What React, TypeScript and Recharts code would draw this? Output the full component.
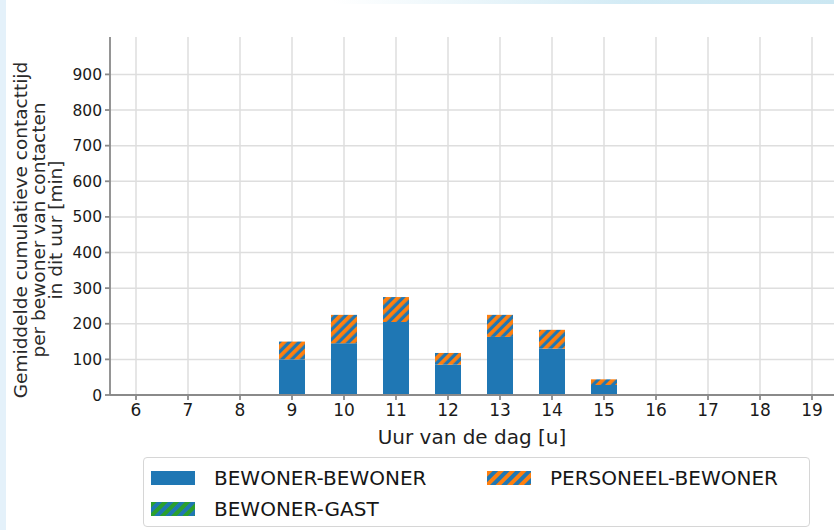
import React from "react";
import { BarChart, Bar, XAxis, YAxis, CartesianGrid } from "recharts";

// Hour of day on the x axis
const hours = [6, 7, 8, 9, 10, 11, 12, 13, 14, 15, 16, 17, 18, 19];
// Average cumulative contact time per resident [min], per contact type
const bewonerBewoner = [0, 0, 0, 100, 145, 205, 85, 163, 130, 28, 0, 0, 0, 0];
const personeelBewoner = [0, 0, 0, 50, 80, 70, 33, 62, 53, 16, 0, 0, 0, 0];
const bewonerGast = [0, 0, 0, 0, 0, 0, 0, 0, 0, 0, 0, 0, 0, 0];
const yTicks = [0, 100, 200, 300, 400, 500, 600, 700, 800, 900];

const seriesNames = ["BEWONER-BEWONER", "BEWONER-GAST", "PERSONEEL-BEWONER"];

const data = hours.map((h, i) => ({
  hour: h,
  bb: bewonerBewoner[i],
  bg: bewonerGast[i],
  pb: personeelBewoner[i],
}));

const BLUE = "#1f77b4";
const ORANGE = "#ff7f0e";
const GREEN = "#2ca02c";
const FONT = "'DejaVu Sans', sans-serif";

const YLabel = (props: any) => {
  const lines = [
    "Gemiddelde cumulatieve contacttijd",
    "per bewoner van contacten",
    "in dit uur [min]",
  ];
  const cy = 230;
  return (
    <g>
      {lines.map((t, i) => {
        const x = 27 + i * 17.5;
        return (
          <text
            key={i}
            x={x}
            y={cy}
            transform={`rotate(-90 ${x} ${cy})`}
            textAnchor="middle"
            fontSize={18.5}
            fontFamily={FONT}
            fill="#2a2a2a"
          >
            {t}
          </text>
        );
      })}
    </g>
  );
};

const XLabel = (props: any) => (
  <text
    x={472}
    y={444}
    textAnchor="middle"
    fontSize={20}
    fontFamily={FONT}
    fill="#1e1e1e"
  >
    Uur van de dag [u]
  </text>
);

const Swatch = ({ kind }: { kind: "solid" | "orange" | "green" }) => (
  <svg width={44} height={14} style={{ display: "block" }}>
    <defs>
      <pattern id={`lg-${kind}`} patternUnits="userSpaceOnUse" width={8} height={8} patternTransform="rotate(45)">
        <rect width={8} height={8} fill={BLUE} />
        <rect width={4} height={8} fill={kind === "green" ? GREEN : ORANGE} />
      </pattern>
    </defs>
    <rect width={44} height={14} fill={kind === "solid" ? BLUE : `url(#lg-${kind})`} />
  </svg>
);

const LegendItem = ({ kind, label, left, top }: any) => (
  <div style={{ position: "absolute", left, top, display: "flex", alignItems: "center" }}>
    <Swatch kind={kind} />
    <span style={{ marginLeft: 19, fontFamily: FONT, fontSize: 20, color: "#161616", lineHeight: "20px" }}>
      {label}
    </span>
  </div>
);

export default function App() {
  return (
    <div style={{ position: "absolute", left: 0, top: 0, width: 834, height: 530, overflow: "hidden", background: "#fff" }}>
      <div style={{ position: "absolute", left: 0, top: 0, width: 834, height: 4, background: "linear-gradient(to right, #ffffff 0%, #ffffff 40%, #d3ebf5 75%, #cbe7f2 100%)" }} />
      <div style={{ position: "absolute", left: 0, top: 0, width: 6, height: 530, background: "#e4f1fa" }} />
      <div style={{ position: "absolute", left: 0, top: 0 }}>
        <BarChart
          width={900}
          height={530}
          data={data}
          margin={{ top: 37, right: 62, left: 0, bottom: 0 }}
          barGap={0}
        >
          <defs>
            <pattern id="hatchOrange" patternUnits="userSpaceOnUse" width={7} height={7} patternTransform="rotate(45)">
              <rect width={7} height={7} fill={BLUE} />
              <rect width={3.8} height={7} fill={ORANGE} />
            </pattern>
            <pattern id="hatchGreen" patternUnits="userSpaceOnUse" width={7} height={7} patternTransform="rotate(45)">
              <rect width={7} height={7} fill={BLUE} />
              <rect width={3.8} height={7} fill={GREEN} />
            </pattern>
          </defs>
          <CartesianGrid
            stroke="#dedede"
            strokeWidth={1.5}
            horizontalValues={yTicks}
            verticalValues={hours}
          />
          <XAxis
            dataKey="hour"
            type="number"
            domain={[5.5, 19.5]}
            ticks={hours}
            allowDataOverflow
            interval={0}
            height={135}
            stroke="#8a8a8a"
            strokeWidth={1.8}
            tickSize={5}
            tickMargin={4}
            tick={{ fontSize: 17, fontFamily: FONT, fill: "#1a1a1a" }}
            label={<XLabel />}
          />
          <YAxis
            type="number"
            domain={[0, 1005]}
            ticks={yTicks}
            allowDataOverflow
            width={110}
            stroke="#8a8a8a"
            strokeWidth={1.8}
            tickSize={5}
            tickMargin={3}
            tick={{ fontSize: 15.5, fontFamily: FONT, fill: "#1a1a1a" }}
            label={<YLabel />}
          />
          <Bar dataKey="bb" name={seriesNames[0]} stackId="s" fill={BLUE} barSize={26} isAnimationActive={false} />
          <Bar dataKey="bg" name={seriesNames[1]} stackId="s" fill="url(#hatchGreen)" barSize={26} isAnimationActive={false} />
          <Bar dataKey="pb" name={seriesNames[2]} stackId="s" fill="url(#hatchOrange)" barSize={26} isAnimationActive={false} />
        </BarChart>
      </div>
      <div style={{ position: "absolute", left: 143, top: 457, width: 667, height: 70, border: "1px solid #d6d6d6", borderRadius: 4, boxSizing: "border-box" }} />
      <LegendItem kind="solid" label={seriesNames[0]} left={151} top={468} />
      <LegendItem kind="orange" label={seriesNames[2]} left={487} top={468} />
      <LegendItem kind="green" label={seriesNames[1]} left={151} top={499} />
    </div>
  );
}
